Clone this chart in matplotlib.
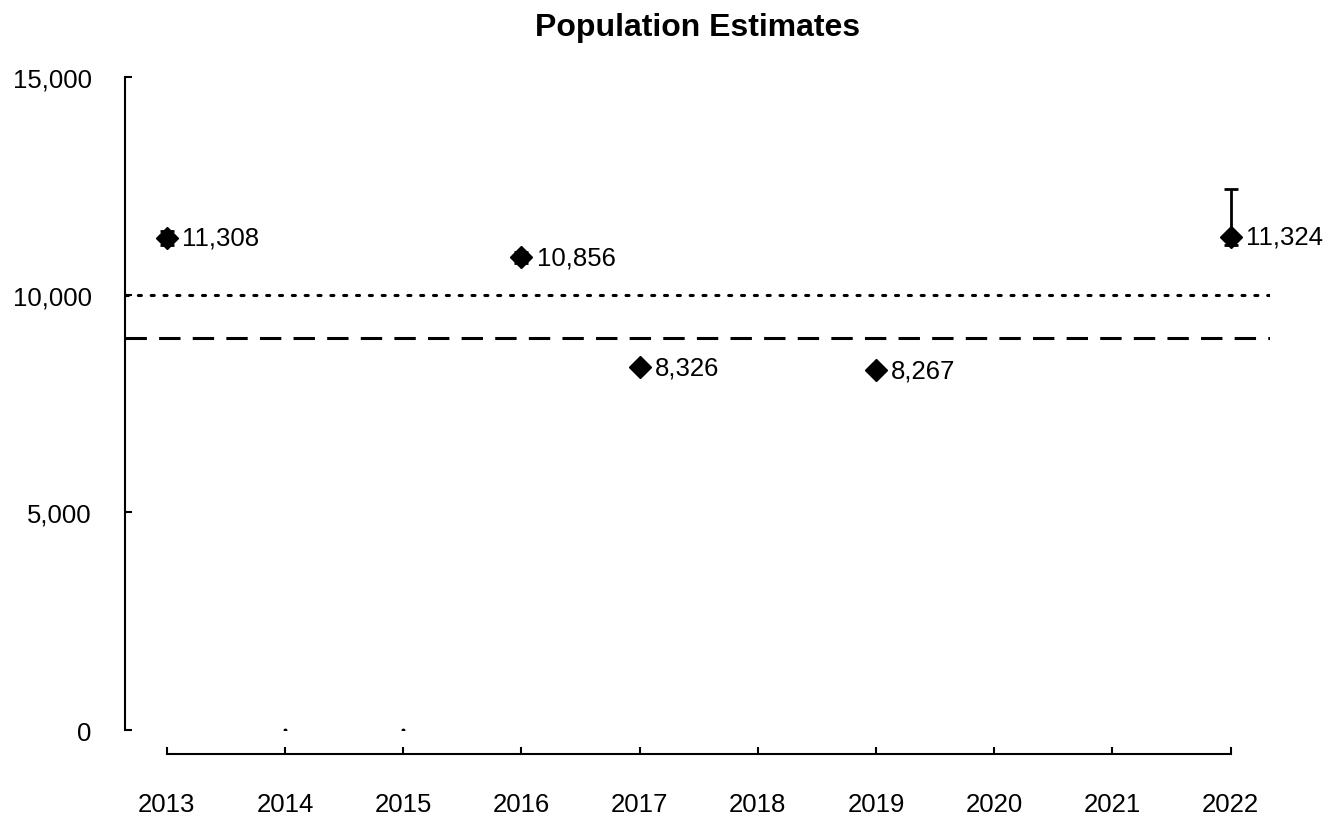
import matplotlib
matplotlib.use("Agg")
import matplotlib.pyplot as plt
import numpy as np

plt.rcParams['font.family'] = ['Liberation Sans', 'DejaVu Sans']

years = [2013, 2014, 2015, 2016, 2017, 2018, 2019, 2020, 2021, 2022]
est_years = [2013, 2016, 2017, 2019, 2022]
estimates = [11308, 10856, 8326, 8267, 11324]
err_low = [11150, 10730, 8326, 8267, 11150]
err_high = [11450, 10980, 8326, 8267, 12420]
zero_years = [2014, 2015]
zero_vals = [0, 0]
ref_dotted = 10000
ref_dashed = 9000
yticks = [0, 5000, 10000, 15000]

fig = plt.figure(figsize=(13.35, 8.2), dpi=100)
ax = fig.add_axes([0.0936, 0.1085, 0.8574, 0.7965])

for s in ['top', 'right']:
    ax.spines[s].set_visible(False)
ax.spines['bottom'].set_position(('outward', 17.5))
ax.spines['left'].set_linewidth(1.5)
ax.spines['bottom'].set_linewidth(1.5)

ax.axhline(ref_dotted, color='black', lw=2.2, linestyle=(0, (1, 3.2)), dash_capstyle='round')
ax.axhline(ref_dashed, color='black', lw=2.2, linestyle=(0, (7, 4)))

est = np.array(estimates)
yerr = np.vstack([est - np.array(err_low), np.array(err_high) - est])
ax.errorbar(est_years, estimates, yerr=yerr, fmt='D', color='black', ms=11.5,
            ecolor='black', elinewidth=2, capsize=5, capthick=2, zorder=3)
ax.plot(zero_years, zero_vals, 'o', color='black', ms=1.8, zorder=3)

for x, v in zip(est_years, estimates):
    ax.annotate(f"{v:,}", (x, v), xytext=(11, 0), textcoords='offset points',
                va='center', ha='left', fontsize=18.5)

ax.set_xlim(2012.645, 2022.33)
ax.set_ylim(0, 15000)
ax.set_yticks(yticks)
ax.set_yticklabels([f"{t:,}" for t in yticks])
ax.set_xticks(years)
ax.set_xticklabels([str(y) for y in years])
ax.spines['bottom'].set_bounds(2013, 2022)

ax.tick_params(axis='y', direction='in', length=5, width=1.5, pad=24, labelsize=18.5)
ax.tick_params(axis='x', direction='in', length=5, width=1.5, pad=27, labelsize=18.5)

ax.set_title("Population Estimates", fontsize=23, fontweight='bold', pad=30)

fig.savefig("out.png", dpi=100)
